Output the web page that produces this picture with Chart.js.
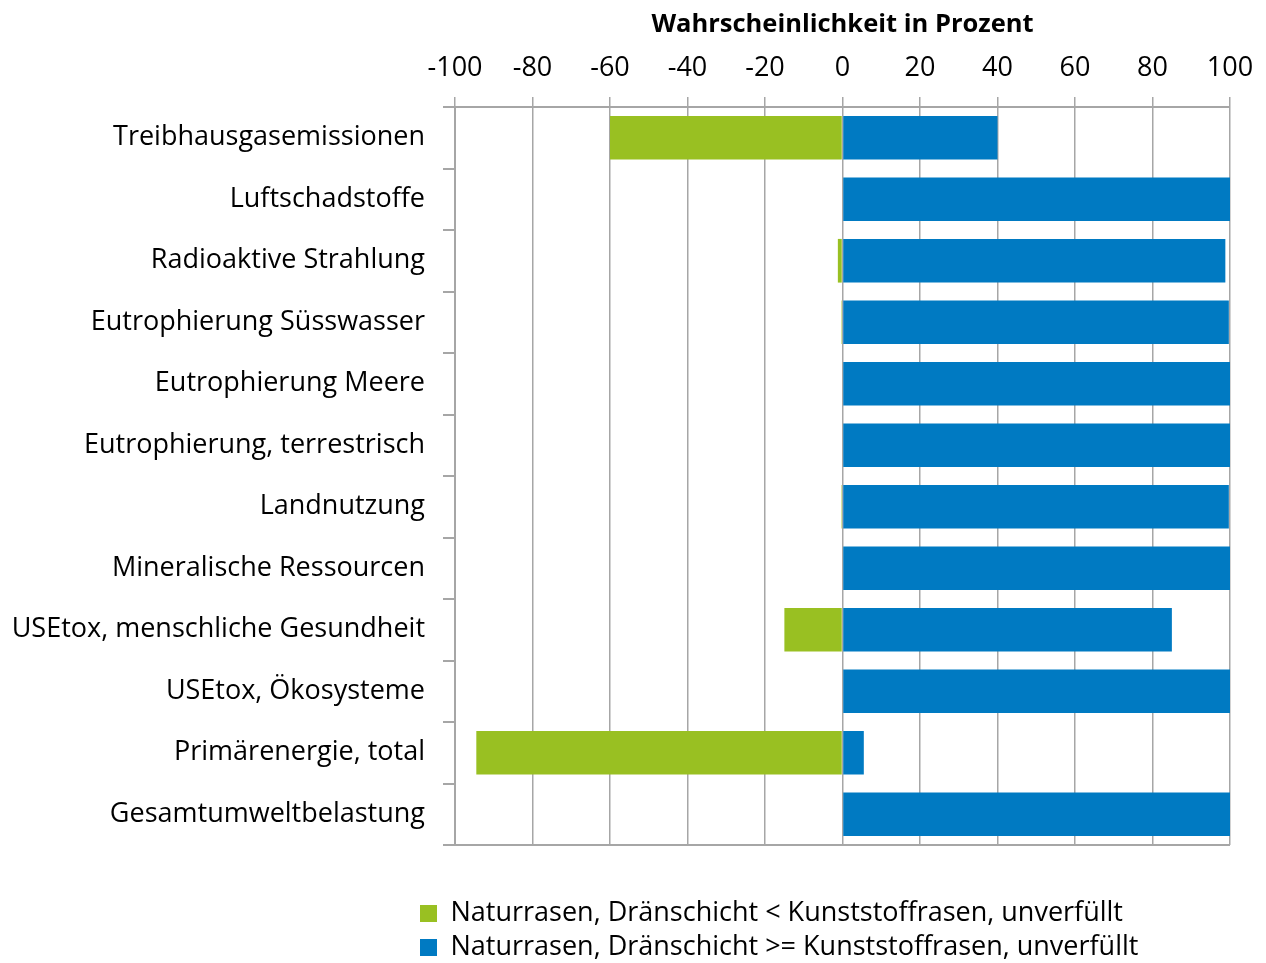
<!DOCTYPE html>
<html>
<head>
<meta charset="utf-8">
<script src="https://cdn.jsdelivr.net/npm/chart.js@4.4.1/dist/chart.umd.min.js"></script>
<style>
  html, body { margin: 0; padding: 0; background: #fff; }
  #wrap { width: 1266px; height: 963px; }
</style>
</head>
<body>
<div id="wrap"><canvas id="chart"></canvas></div>
<script>
const categories = [
  'Treibhausgasemissionen',
  'Luftschadstoffe',
  'Radioaktive Strahlung',
  'Eutrophierung Süsswasser',
  'Eutrophierung Meere',
  'Eutrophierung, terrestrisch',
  'Landnutzung',
  'Mineralische Ressourcen',
  'USEtox, menschliche Gesundheit',
  'USEtox, Ökosysteme',
  'Primärenergie, total',
  'Gesamtumweltbelastung'
];
const lowerValues = [-60, 0, -1.2, -0.3, 0, 0, -0.3, 0, -15, 0, -94.5, 0];
const higherValues = [40, 100, 98.8, 99.7, 100, 100, 99.7, 100, 85, 100, 5.5, 100];
const xTicks = [-100, -80, -60, -40, -20, 0, 20, 40, 60, 80, 100];

const fontFamily = '"Open Sans", "DejaVu Sans", sans-serif';
const gridGray = '#a6a6a6';

// put the legend rows left-of-centre and a bit lower, like the original
const legendShift = {
  id: 'legendShift',
  afterLayout(chart) {
    const lg = chart.legend;
    lg.left = 413;
    lg.top += 48;
    lg.bottom += 48;
  }
};

new Chart(document.getElementById('chart'), {
  type: 'bar',
  data: {
    labels: categories,
    datasets: [
      {
        label: 'Naturrasen, Dränschicht < Kunststoffrasen, unverfüllt',
        data: lowerValues,
        backgroundColor: '#99c022'
      },
      {
        label: 'Naturrasen, Dränschicht >= Kunststoffrasen, unverfüllt',
        data: higherValues,
        backgroundColor: '#007ac2'
      }
    ]
  },
  options: {
    indexAxis: 'y',
    responsive: true,
    maintainAspectRatio: false,
    animation: false,
    categoryPercentage: 1,
    barPercentage: 0.71,
    layout: { padding: { right: 36, bottom: 40 } },
    plugins: {
      tooltip: { enabled: false },
      legend: {
        position: 'bottom',
        align: 'start',
        labels: {
          boxWidth: 17,
          boxHeight: 17,
          padding: 7,
          color: '#000',
          font: { family: fontFamily, size: 27 }
        }
      }
    },
    scales: {
      x: {
        position: 'top',
        stacked: true,
        min: -100,
        max: 100,
        afterBuildTicks(scale) {
          scale.ticks = xTicks.map(v => ({ value: v }));
        },
        afterFit(scale) { scale.height = 107; },
        ticks: {
          color: '#000',
          padding: 12,
          maxRotation: 0,
          font: { family: fontFamily, size: 27 }
        },
        grid: {
          color: gridGray,
          lineWidth: 1.5,
          tickLength: 10
        },
        border: { color: gridGray, width: 2 },
        title: {
          display: true,
          text: 'Wahrscheinlichkeit in Prozent',
          color: '#000',
          padding: { top: 9, bottom: 0 },
          font: { family: fontFamily, size: 25.5, weight: 'bold' }
        }
      },
      y: {
        stacked: true,
        afterFit(scale) { scale.width = 455; },
        ticks: {
          color: '#000',
          padding: 18,
          font: { family: fontFamily, size: 27 }
        },
        grid: {
          offset: true,
          color: ctx => ctx.tick ? 'rgba(0,0,0,0)' : gridGray,
          tickColor: gridGray,
          lineWidth: 2,
          tickLength: 12
        },
        border: { color: gridGray, width: 2 }
      }
    }
  },
  plugins: [legendShift]
});
</script>
</body>
</html>
